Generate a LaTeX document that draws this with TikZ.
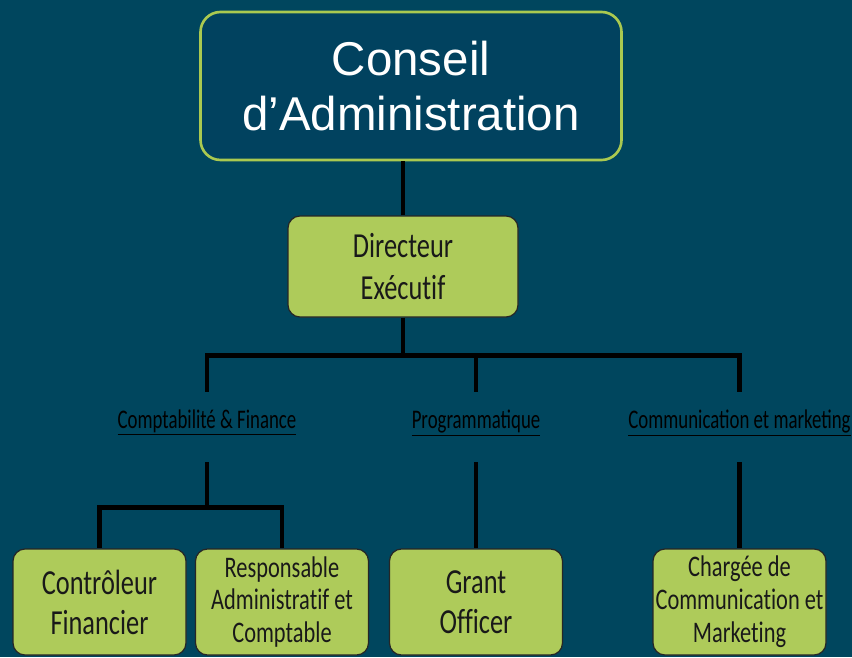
\documentclass[tikz,border=0pt]{standalone}
\usepackage{fontspec}
\setmainfont{Liberation Sans}
\newfontfamily\boxfont[FakeStretch=0.75,Ligatures=NoCommon]{Carlito}
\newfontfamily\unitfont[FakeStretch=0.7]{Carlito}

\definecolor{tealbg}{RGB}{0,70,94}
\definecolor{tealbox}{RGB}{1,66,95}
\definecolor{leafgreen}{RGB}{174,203,90}
\definecolor{limeline}{RGB}{170,201,80}

\tikzset{
  boardbox/.style={draw=limeline, line width=1.5pt, fill=tealbox,
    rounded corners=0.4cm, minimum width=8.42cm, minimum height=2.96cm,
    align=center, text=white, font=\fontsize{27}{31}\selectfont},
  postbox/.style={draw=black!85, line width=0.7pt, fill=leafgreen,
    rounded corners=0.24cm, minimum width=3.46cm, minimum height=2.12cm,
    inner sep=0pt, align=center, text=black!90},
  bigpost/.style={font=\boxfont\fontsize{20}{22.7}\selectfont},
  smallpost/.style={font=\boxfont\fontsize{17}{18.7}\selectfont},
  unitlabel/.style={font=\unitfont\fontsize{15.3}{17}\selectfont,
    text=black, anchor=base, inner sep=0pt,
    text height=0.72cm, text depth=0.68cm},
  orgline/.style={line width=2.6pt, black}
}

\begin{document}
\begin{tikzpicture}
            \fill [tealbg] (0,0) rectangle (17.04,-13.14);
            \useasboundingbox (0,0) rectangle (17.04,-13.14);

            \node [boardbox] (board) at (8.22,-1.72) {Conseil\\d’Administration};
            \node [postbox,minimum width=4.6cm,minimum height=2.02cm,
               font=\boxfont\fontsize{20}{24}\selectfont]
               (dir) at (8.06,-5.33) {Directeur\\Exécutif};

            % services
            \node [unitlabel] (compta) at (4.14,-8.56) {\underline{Comptabilité \& Finance}};
            \node [unitlabel] (prog) at (9.52,-8.56) {\underline{Programmatique}};
            \node [unitlabel] (comm) at (14.79,-8.56) {\underline{Communication et marketing}};

            % postes
            \node [postbox,bigpost] (ctrl) at (1.99,-12.04) {Contrôleur\\Financier};
            \node [postbox,smallpost] (resp) at (5.64,-12.04) {Responsable\\Administratif et\\Comptable};
            \node [postbox,bigpost] (grant) at (9.52,-12.04) {Grant\\Officer};
            \node [postbox,smallpost] (charge) at (14.79,-12.04) {Chargée de\\Communication et\\Marketing};

            \draw [orgline] (dir.north) -- (dir.north |- board.south);
            \draw [orgline] (dir.south) -- ++(0,-0.76) coordinate (split) -| (compta.north);
            \draw [orgline] (split) -| (prog.north);
            \draw [orgline] (split) -| (comm.north);

            \draw [orgline] (compta.south) -- ++(0,-0.9) coordinate (fsplit) -| (ctrl.north);
            \draw [orgline] (fsplit) -| (resp.north);
            \draw [orgline] (prog.south) -- (grant.north);
            \draw [orgline] (comm.south) -- (charge.north);
         \end{tikzpicture}
\end{document}
